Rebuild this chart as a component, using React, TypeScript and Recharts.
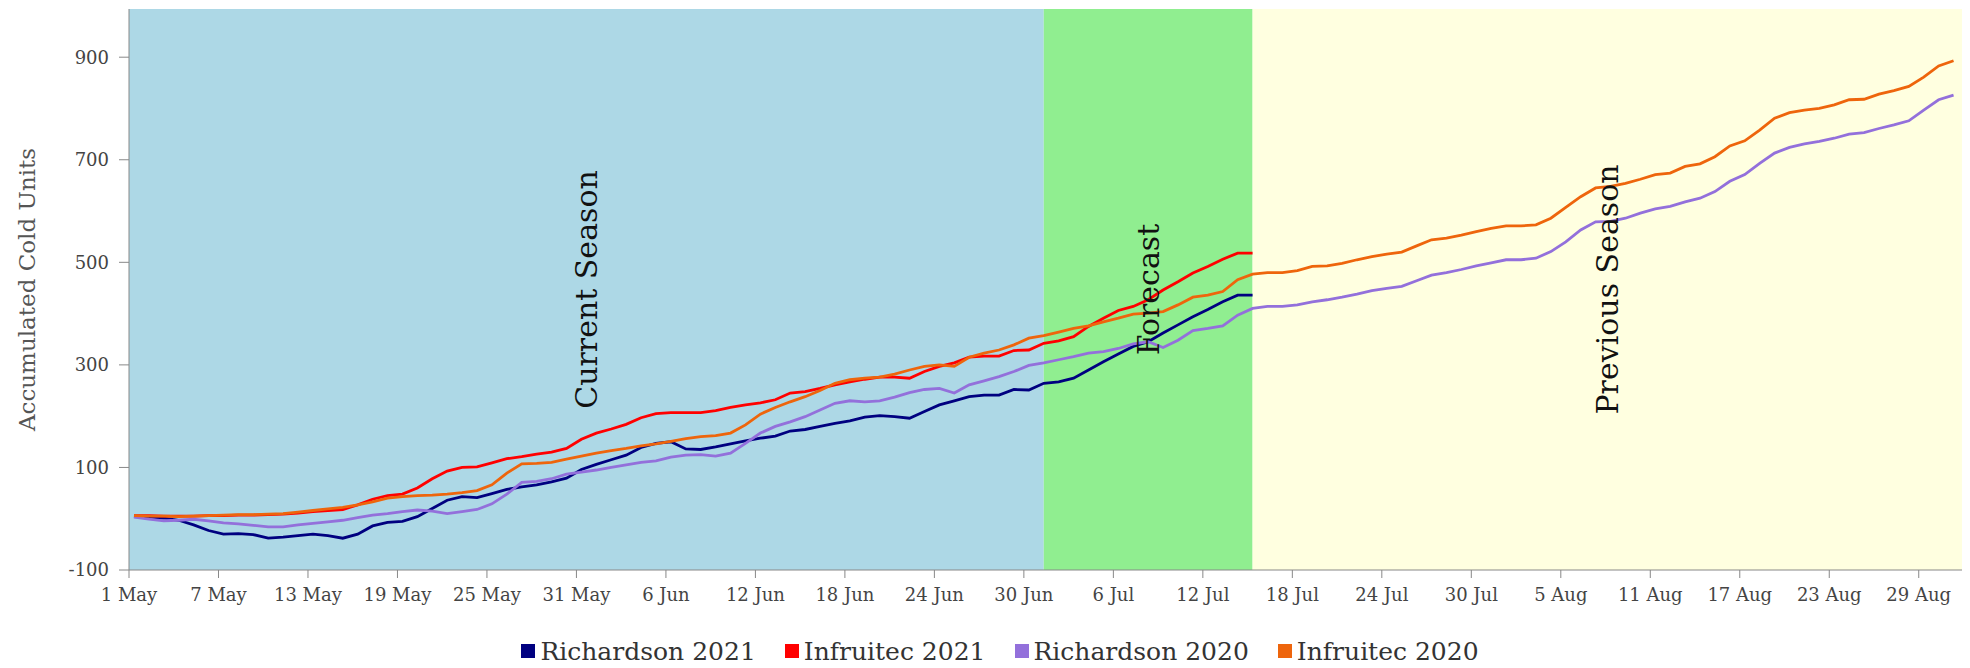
import React from 'react';
import { LineChart, Line, XAxis, YAxis, ReferenceArea, Legend } from 'recharts';

// x axis: one tick every 6 days from 1 May
const TICK_LABELS = [
  '1 May', '7 May', '13 May', '19 May', '25 May', '31 May', '6 Jun', '12 Jun',
  '18 Jun', '24 Jun', '30 Jun', '6 Jul', '12 Jul', '18 Jul', '24 Jul', '30 Jul',
  '5 Aug', '11 Aug', '17 Aug', '23 Aug', '29 Aug'
];
const TICK_DAYS = TICK_LABELS.map((_, i) => i * 6);
const Y_TICKS = [-100, 100, 300, 500, 700, 900];

// daily readings are stamped at 08:00, so they sit a little right of the midnight ticks
const SAMPLE_TIME = 8 / 24;
const CURRENT_END_DAY = 61; // 1 Jul
const FORECAST_END_DAY = 75; // 15 Jul
const X_MAX = 122.9;
const Y_MIN = -100;
const Y_MAX = 994;

// accumulated cold units, one value per day from 1 May
const richardson2021 = [
  4, 3, 1, -3, -12, -23, -30, -29, -31, -38,
  -36, -33, -30, -33, -38, -30, -14, -7, -5, 4,
  20, 36, 43, 41, 49, 57, 62, 66, 72, 79,
  96, 106, 115, 124, 139, 147, 150, 136, 135, 140,
  146, 152, 157, 161, 171, 174, 180, 186, 191, 198,
  201, 199, 196, 209, 222, 230, 238, 241, 241, 252,
  251, 264, 267, 274, 290, 306, 321, 336, 345, 362,
  378, 394, 408, 423, 436, 436
];

const infruitec2021 = [
  6, 6, 5, 5, 5, 6, 6, 7, 7, 8,
  9, 11, 14, 16, 18, 27, 38, 45, 48, 60,
  78, 93, 100, 101, 109, 117, 121, 126, 130, 137,
  155, 167, 175, 184, 197, 205, 207, 207, 207, 211,
  217, 222, 226, 232, 245, 248, 254, 261, 267, 272,
  276, 276, 274, 287, 297, 304, 315, 317, 317, 328,
  329, 342, 347, 355, 375, 391, 406, 414, 427, 446,
  462, 479, 492, 506, 518, 518
];

const richardson2020 = [
  3, -1, -4, -3, -1, -4, -8, -10, -13, -16,
  -16, -12, -9, -6, -3, 2, 7, 10, 14, 17,
  15, 10, 14, 18, 29, 48, 71, 73, 78, 87,
  91, 95, 100, 105, 110, 113, 120, 124, 125, 122,
  128, 147, 167, 180, 189, 199, 212, 225, 230, 228,
  230, 237, 246, 252, 254, 245, 261, 269, 277, 287,
  299, 304, 310, 316, 323, 326, 332, 341, 345, 334,
  348, 367, 371, 376, 397, 410, 414, 414, 417, 423,
  427, 432, 438, 445, 449, 453, 464, 475, 480, 486,
  493, 499, 505, 505, 508, 521, 540, 563, 579, 580,
  586, 596, 604, 609, 618, 625, 638, 658, 671, 693,
  713, 724, 731, 736, 742, 750, 753, 761, 768, 776,
  797, 817, 826
];

const infruitec2020 = [
  6, 5, 5, 4, 5, 6, 7, 8, 8, 9,
  10, 13, 16, 19, 22, 27, 33, 40, 43, 45,
  46, 48, 51, 55, 66, 89, 107, 108, 110, 116,
  122, 128, 133, 137, 142, 146, 151, 156, 160, 162,
  167, 183, 204, 217, 228, 238, 250, 264, 271, 274,
  276, 282, 290, 297, 300, 297, 315, 323, 329, 339,
  352, 357, 364, 371, 376, 384, 391, 399, 401, 404,
  417, 432, 436, 443, 466, 477, 480, 480, 484, 492,
  493, 498, 505, 511, 516, 520, 532, 544, 547, 553,
  560, 566, 571, 571, 573, 586, 607, 628, 645, 648,
  654, 662, 671, 674, 687, 692, 706, 727, 737, 758,
  781, 792, 797, 800, 807, 817, 818, 828, 835, 843,
  861, 883, 893
];

const SERIES = [
  { key: 'richardson2021', name: 'Richardson 2021', color: '#000080', values: richardson2021 },
  { key: 'infruitec2021', name: 'Infruitec 2021', color: '#ff0000', values: infruitec2021 },
  { key: 'richardson2020', name: 'Richardson 2020', color: '#9370db', values: richardson2020 },
  { key: 'infruitec2020', name: 'Infruitec 2020', color: '#ee650c', values: infruitec2020 }
];

const data = infruitec2020.map((_, i) => {
  const row: any = { t: i + SAMPLE_TIME };
  SERIES.forEach(s => {
    row[s.key] = i < s.values.length ? s.values[i] : null;
  });
  return row;
});

const renderYLabel = () => (
  <text
    x={27}
    y={281.5}
    transform="rotate(-90 27 281.5)"
    textAnchor="middle"
    fontSize={23}
    fill="#555"
  >
    Accumulated Cold Units
  </text>
);

const renderLegend = () => (
  <div
    style={{
      display: 'flex',
      justifyContent: 'center',
      alignItems: 'center',
      gap: 29,
      height: 30,
      paddingLeft: 30,
      boxSizing: 'border-box',
      fontSize: 25,
      color: '#333'
    }}
  >
    {SERIES.map(s => (
      <span key={s.key} style={{ display: 'flex', alignItems: 'center' }}>
        <span style={{ width: 14, height: 14, background: s.color, marginRight: 5 }} />
        {s.name}
      </span>
    ))}
  </div>
);

const bandLabel = (value: string) => ({
  value,
  angle: -90,
  position: 'center' as const,
  fontSize: 30,
  fill: '#111'
});

export default function App() {
  return (
    <div style={{ fontFamily: '"DejaVu Serif", serif' }}>
      <LineChart
        width={1954}
        height={652}
        data={data}
        margin={{ top: 1, right: 0, bottom: 0, left: 0 }}
      >
        <ReferenceArea
          x1={0}
          x2={CURRENT_END_DAY + SAMPLE_TIME}
          fill="#add8e6"
          fillOpacity={1}
          label={bandLabel('Current Season')}
        />
        <ReferenceArea
          x1={CURRENT_END_DAY + SAMPLE_TIME}
          x2={FORECAST_END_DAY + SAMPLE_TIME}
          fill="#90ee90"
          fillOpacity={1}
          label={bandLabel('Forecast')}
        />
        <ReferenceArea
          x1={FORECAST_END_DAY + SAMPLE_TIME}
          x2={X_MAX}
          fill="#ffffe0"
          fillOpacity={1}
          label={bandLabel('Previous Season')}
        />
        <XAxis
          type="number"
          dataKey="t"
          domain={[0, X_MAX]}
          ticks={TICK_DAYS}
          interval={0}
          tickFormatter={v => TICK_LABELS[TICK_DAYS.indexOf(v)]}
          height={60}
          tickSize={8}
          tickMargin={10}
          stroke="#888"
          tick={{ fill: '#444', fontSize: 18 }}
        />
        <YAxis
          type="number"
          domain={[Y_MIN, Y_MAX]}
          ticks={Y_TICKS}
          interval={0}
          width={121}
          tickSize={10}
          tickMargin={10}
          stroke="#888"
          tick={{ fill: '#444', fontSize: 18 }}
          label={renderYLabel}
        />
        <Legend
          verticalAlign="bottom"
          content={renderLegend}
          wrapperStyle={{ bottom: -6 }}
        />
        {SERIES.map(s => (
          <Line
            key={s.key}
            dataKey={s.key}
            name={s.name}
            type="linear"
            stroke={s.color}
            strokeWidth={2.8}
            dot={false}
            activeDot={false}
            isAnimationActive={false}
          />
        ))}
      </LineChart>
    </div>
  );
}
